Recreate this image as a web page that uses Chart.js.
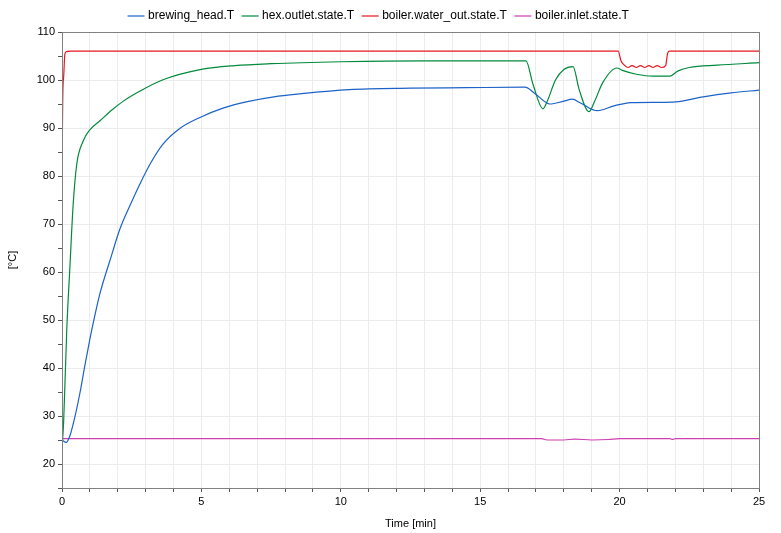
<!DOCTYPE html>
<html>
<head>
<meta charset="utf-8">
<script src="https://cdn.jsdelivr.net/npm/chart.js@4"></script>
<style>
  body { margin: 0; background: #fff; }
  #wrap { width: 781px; height: 533px; }
</style>
</head>
<body>
<div id="wrap"><canvas id="chart"></canvas></div>
<script>
// values: [time min, temperature °C]
var brewingHead = [[0,25],[0.15,24.5],[0.29,26],[0.45,29.5],[0.65,35],[0.82,40.5],[1.0,46],[1.18,51],[1.36,55.5],[1.72,62.4],[2.08,69],[2.45,74],[2.8,78.4],[3.16,82.5],[3.6,86.5],[4.2,89.8],[4.95,92.2],[5.8,94.2],[6.74,95.6],[7.6,96.5],[8.5,97.1],[10.3,98],[12.5,98.3],[14.5,98.4],[16.6,98.5],[17.0,97],[17.5,95],[18.0,95.6],[18.3,96],[18.6,95.2],[19.2,93.6],[19.8,94.6],[20.4,95.3],[21.9,95.4],[23,96.5],[24,97.3],[25,97.9]];
var hexOutlet = [[0,23],[0.06,29],[0.17,47.8],[0.29,61.8],[0.4,74],[0.53,82.5],[0.76,87.3],[1.0,89.6],[1.36,91.5],[1.8,93.8],[2.2,95.6],[2.8,97.7],[3.6,100],[5,102.2],[6.2,103],[7.5,103.4],[10,103.8],[13,104],[16.64,104],[16.9,99],[17.25,94],[17.4,95.5],[17.7,100],[18.0,102.2],[18.33,102.8],[18.55,98],[18.9,93.4],[19.1,95.5],[19.4,99.5],[19.9,102.5],[20.1,102],[20.6,101.2],[21.2,100.8],[21.8,100.8],[22.1,101.9],[22.5,102.6],[23.5,103.1],[25,103.6]];
var boilerWaterOut = [[0,25.3],[0.001,73.5],[0.05,100],[0.1,105.3],[0.15,105.9],[0.3,106],[19.95,106],[20.05,104],[20.15,103.2],[20.3,102.6],[20.45,103],[20.6,102.6],[20.75,103],[20.9,102.6],[21.05,103],[21.2,102.6],[21.35,103],[21.5,102.6],[21.65,103],[21.72,105.5],[21.78,106],[25,106]];
var boilerInlet = [[0,25.3],[17.2,25.3],[17.4,25.0],[18.0,25.0],[18.4,25.2],[19.0,25.0],[19.6,25.1],[20,25.3],[21.8,25.3],[21.9,25.1],[22,25.3],[25,25.3]];

var names = ["brewing_head.T", "hex.outlet.state.T", "boiler.water_out.state.T", "boiler.inlet.state.T"];
var colors = ["#1c62c8", "#008a3c", "#e8161c", "#d03fb0"];
var series = [brewingHead, hexOutlet, boilerWaterOut, boilerInlet];

function toXY(arr) {
  return arr.map(function (p) { return { x: p[0], y: p[1] }; });
}

var datasets = series.map(function (s, i) {
  return {
    label: names[i],
    data: toXY(s),
    borderColor: colors[i],
    backgroundColor: colors[i],
    borderWidth: 1.2,
    pointRadius: 0,
    cubicInterpolationMode: 'monotone'
  };
});
// draw boiler line on top like the reference
datasets[2].order = -1;

var frame = {
  id: 'frame',
  afterDraw: function (chart) {
    var a = chart.chartArea, c = chart.ctx;
    c.save();
    c.strokeStyle = '#808080';
    c.lineWidth = 1;
    c.strokeRect(a.left + 0.5, a.top + 0.5, a.right - a.left, a.bottom - a.top);
    c.restore();
  }
};

Chart.defaults.font.family = "'Liberation Sans', Arial, sans-serif";
Chart.defaults.font.size = 11;
Chart.defaults.color = '#000';

new Chart(document.getElementById("chart"), {
  type: "line",
  data: { datasets: datasets },
  plugins: [frame],
  options: {
    responsive: true,
    maintainAspectRatio: false,
    animation: false,
    layout: { padding: { left: 0, right: 22, top: 0, bottom: 0 } },
    plugins: {
      legend: {
        position: 'top',
        align: 'center',
        labels: {
          usePointStyle: true,
          pointStyle: 'line',
          boxWidth: 26,
          padding: 10,
          font: { size: 12 },
          sort: function (a, b) { return a.datasetIndex - b.datasetIndex; }
        }
      },
      tooltip: { enabled: false }
    },
    scales: {
      x: {
        type: 'linear',
        min: 0, max: 25,
        afterFit: function (s) { s.height = 45; },
        ticks: {
          stepSize: 1,
          autoSkip: false,
          maxRotation: 0,
          callback: function (v) { return v % 5 === 0 ? v : ''; }
        },
        grid: {
          color: '#ececec',
          tickLength: 4,
          tickColor: '#555'
        },
        border: { color: '#808080' },
        title: { display: true, text: 'Time [min]', padding: 2 }
      },
      y: {
        min: 15, max: 110,
        afterFit: function (s) { s.width = 62; },
        ticks: {
          stepSize: 5,
          autoSkip: false,
          callback: function (v) { return v % 10 === 0 ? v : ''; }
        },
        grid: {
          color: function (ctx) { return ctx.tick && ctx.tick.value % 10 === 0 ? '#ececec' : 'rgba(0,0,0,0)'; },
          tickLength: 4,
          tickColor: '#555'
        },
        border: { color: '#808080' },
        title: { display: true, text: '[°C]', padding: 6 }
      }
    }
  }
});
</script>
</body>
</html>
